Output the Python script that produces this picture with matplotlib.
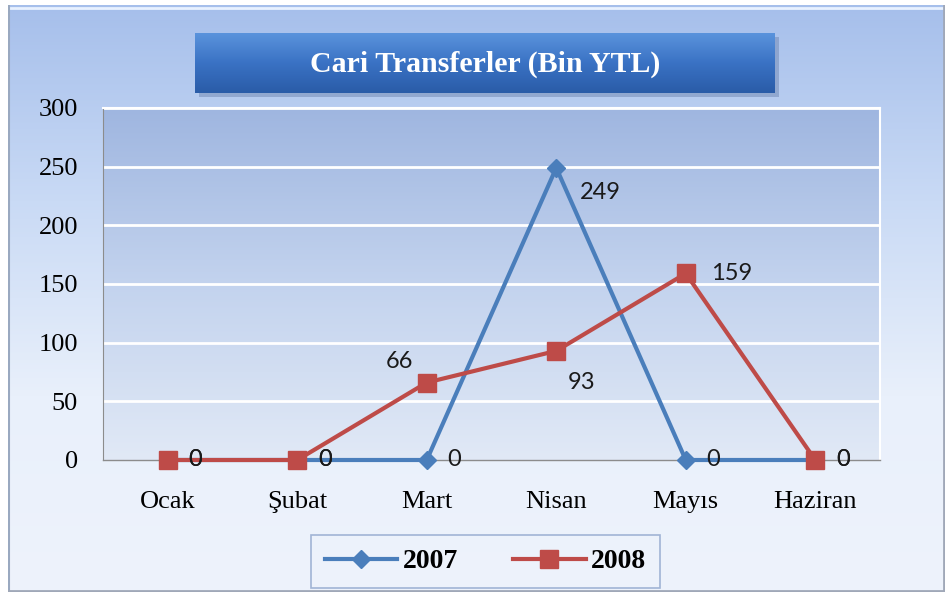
import numpy as np
import matplotlib
matplotlib.use("Agg")
import matplotlib.pyplot as plt
from matplotlib.colors import LinearSegmentedColormap
from matplotlib.lines import Line2D

# ---- data ----
months = ["Ocak", "Şubat", "Mart", "Nisan", "Mayıs", "Haziran"]
series_names = ["2007", "2008"]
values_2007 = [0, 0, 0, 249, 0, 0]
values_2008 = [0, 0, 66, 93, 159, 0]
y_ticks = [0, 50, 100, 150, 200, 250, 300]
title = "Cari Transferler (Bin YTL)"

# label offsets in points (style only)
off_2007 = [(15, 0), (15, 0), (15, 0), (17, -18), (15, 0), (15, 0)]
off_2008 = [(15, 0), (15, 0), (-10, 15), (8, -23), (18, 0), (15, 0)]
ha_2007 = ["left"] * 6
ha_2008 = ["left", "left", "right", "left", "left", "left"]

W, H = 950, 597
fig = plt.figure(figsize=(W / 100, H / 100), dpi=100)
fig.patch.set_facecolor("white")

def fx(px):
    return px / W

def fy(py):
    return 1 - py / H

# ---- outer background panel ----
bg = fig.add_axes([fx(8), fy(592), fx(945) - fx(8), fy(5) - fy(592)], zorder=-10)
bg_cmap = LinearSegmentedColormap.from_list("bg", ["#a6bfeb", "#c9daf5", "#e9f0fb", "#eef3fc"])
grad = np.linspace(1, 0, 256).reshape(-1, 1)
bg.imshow(1 - grad, aspect="auto", cmap=bg_cmap, extent=[0, 1, 0, 1], origin="upper")
bg.set_xlim(0, 1); bg.set_ylim(0, 1)
bg.axis("off")
bg.plot([0, 1], [0.995, 0.995], color="#e8f1ff", lw=2)
bg.plot([0.001, 0.001], [0, 1], color="#9aa9c0", lw=1.5)
bg.plot([0, 1], [0.002, 0.002], color="#a0a8b8", lw=2)
bg.plot([0.999, 0.999], [0, 1], color="#a0a8b8", lw=2)

# ---- plot area ----
ax = fig.add_axes([fx(103), fy(460), fx(880) - fx(103), fy(108) - fy(460)])
x = np.arange(len(months))
ax.set_xlim(-0.5, len(months) - 0.5)
ax.set_ylim(0, 300)
pa_cmap = LinearSegmentedColormap.from_list("pa", ["#e1e9f6", "#c3d3ee", "#9fb6e0"])
ax.imshow(np.linspace(0, 1, 256).reshape(-1, 1), aspect="auto", cmap=pa_cmap,
          extent=[-0.5, len(months) - 0.5, 0, 300], origin="lower", zorder=0)

for t in y_ticks[1:]:
    ax.axhline(t, color="white", lw=2, zorder=1)

for s in ["top", "right"]:
    ax.spines[s].set_color("white")
    ax.spines[s].set_linewidth(1.5)
ax.spines["left"].set_color("#8c8c8c")
ax.spines["bottom"].set_color("#8c8c8c")
ax.spines["bottom"].set_linewidth(1)

ax.set_yticks(y_ticks)
ax.set_yticklabels([str(v) for v in y_ticks], family="Liberation Serif", fontsize=19)
ax.set_xticks(x)
ax.set_xticklabels(months, family="Liberation Serif", fontsize=19)
ax.tick_params(axis="y", length=0, pad=18)
ax.tick_params(axis="x", length=0, pad=22)

blue = "#4a7ebb"
red = "#be4b48"
ax.plot(x, values_2007, color=blue, lw=3, marker="D", ms=9, mfc=blue, mec=blue, zorder=3,
        clip_on=False)
ax.plot(x, values_2008, color=red, lw=3, marker="s", ms=13, mfc=red, mec=red, zorder=4,
        clip_on=False)

for i, v in enumerate(values_2007):
    ax.annotate(str(v), (x[i], v), xytext=off_2007[i], textcoords="offset points",
                ha=ha_2007[i], va="center", fontsize=17, family="Lato", color="#1a1a1a", zorder=5)
for i, v in enumerate(values_2008):
    ax.annotate(str(v), (x[i], v), xytext=off_2008[i], textcoords="offset points",
                ha=ha_2008[i], va="center", fontsize=17, family="Lato", color="#1a1a1a", zorder=5)

# ---- title box ----
tb_shadow = fig.add_axes([fx(199), fy(97), fx(779) - fx(199), fy(37) - fy(97)], zorder=4)
tb_shadow.set_facecolor("#6f87b3")
tb_shadow.patch.set_alpha(0.5)
for s in tb_shadow.spines.values():
    s.set_visible(False)
tb_shadow.set_xticks([]); tb_shadow.set_yticks([])

tb = fig.add_axes([fx(195), fy(93), fx(775) - fx(195), fy(33) - fy(93)], zorder=5)
tb_cmap = LinearSegmentedColormap.from_list("tb", ["#2a5ca8", "#3a72c4", "#5a93dc"])
tb.imshow(np.linspace(0, 1, 64).reshape(-1, 1), aspect="auto", cmap=tb_cmap,
          extent=[0, 1, 0, 1], origin="lower")
tb.set_xlim(0, 1); tb.set_ylim(0, 1)
tb.axis("off")
tb.text(0.5, 0.48, title, ha="center", va="center", color="white", fontsize=21.5,
        family="Liberation Serif", fontweight="bold")

# ---- legend ----
handles = [
    Line2D([], [], color=blue, lw=3, marker="D", ms=9, mfc=blue, mec=blue),
    Line2D([], [], color=red, lw=3, marker="s", ms=13, mfc=red, mec=red),
]
leg = fig.legend(handles, series_names, loc="center",
                 bbox_to_anchor=((fx(308) + fx(663)) / 2, (fy(533) + fy(590)) / 2),
                 ncol=2, frameon=True, fancybox=False, handlelength=2.6,
                 columnspacing=2.0, handletextpad=0.2, borderpad=0.5,
                 prop={"family": "Liberation Serif", "weight": "bold", "size": 20})
leg.get_frame().set_edgecolor("#8ea5cc")
leg.get_frame().set_facecolor("none")
leg.get_frame().set_linewidth(1.2)

fig.savefig("out.png", dpi=100)
